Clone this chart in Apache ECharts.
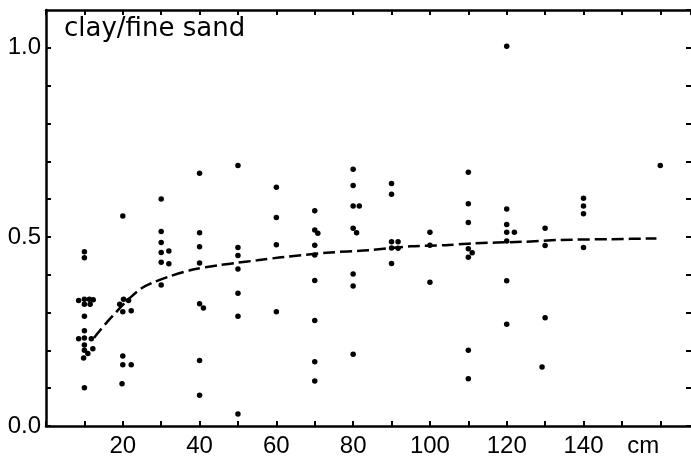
<!DOCTYPE html>
<html><head><meta charset="utf-8">
<script src="https://cdn.jsdelivr.net/npm/echarts@6/dist/echarts.min.js"></script>
<style>html,body{margin:0;padding:0;background:#fff}#c{width:691px;height:461px}</style>
</head><body><div id="c"></div>
<script>
// depth (cm) vs clay/fine sand ratio, grouped by sampling depth column
const col10 = [[10,0.461],[10,0.445],[8.5,0.332],[10,0.335],[11.3,0.335],[12.3,0.334],[10,0.322],[11.5,0.322],[10,0.290],[10,0.252],[8.5,0.231],[10,0.233],[11.8,0.231],[10,0.214],[10,0.200],[10.9,0.192],[12.2,0.204],[9.8,0.180],[10,0.101]];
const col20 = [[20,0.555],[19.2,0.322],[20.2,0.335],[21.5,0.332],[20,0.302],[22.2,0.305],[20,0.185],[20,0.162],[22.2,0.162],[19.8,0.112]];
const col30 = [[30,0.600],[30,0.514],[30,0.485],[30,0.459],[32,0.463],[30,0.433],[32,0.429],[30,0.373]];
const col40 = [[40,0.668],[40,0.511],[40,0.474],[40,0.431],[40,0.323],[41,0.312],[40,0.173],[40,0.081]];
const col50 = [[50,0.689],[50,0.472],[50,0.451],[50,0.415],[50,0.351],[50,0.290],[50,0.032]];
const col60 = [[60,0.631],[60,0.551],[60,0.479],[60,0.302]];
const col70 = [[70,0.569],[70,0.518],[70.8,0.510],[70,0.478],[70,0.452],[70,0.385],[70,0.279],[70,0.170],[70,0.119]];
const col80 = [[80,0.679],[80,0.636],[80,0.582],[81.6,0.582],[80,0.523],[80.9,0.511],[80,0.402],[80,0.370],[80,0.190]];
const col90 = [[90,0.641],[90,0.613],[90,0.487],[91.7,0.487],[90,0.471],[91.7,0.470],[90,0.430]];
const col100 = [[100,0.512],[100,0.478],[100,0.380]];
const col110 = [[110,0.671],[110,0.588],[110,0.538],[110,0.469],[111,0.458],[110,0.446],[110,0.200],[110,0.125]];
const col120 = [[120,1.004],[120,0.574],[120,0.533],[120,0.512],[122,0.512],[120,0.489],[120,0.384],[120,0.269]];
const col130 = [[130,0.523],[130,0.477],[130,0.286],[129.2,0.156]];
const col140 = [[140,0.602],[140,0.582],[140,0.561],[140,0.472]];
const col160 = [[160,0.689]];

// fitted trend curve
const fitDepth = [12.5,14,16,18,20,22,25,28,32,38,45,50,55,62,73,84,95,104,111,124,134,147,159];
const fitRatio = [0.233,0.252,0.276,0.298,0.320,0.340,0.365,0.380,0.395,0.413,0.425,0.432,0.438,0.447,0.458,0.465,0.475,0.478,0.483,0.487,0.492,0.494,0.496];

const xLabels = {20:'20',40:'40',60:'60',80:'80',100:'100',120:'120',140:'140',160:'{cm|cm}'};
const yLabels = ['0.0','0.5','1.0'];
const titleText = 'clay/fine sand';

const points = [].concat(col10,col20,col30,col40,col50,col60,col70,col80,col90,col100,col110,col120,col130,col140,col160);
const fit = fitDepth.map((d,i)=>[d,fitRatio[i]]);

const lineCol = '#000';
const numFamily = "'Liberation Sans', Arimo, Arial, sans-serif";
const tickStyle = {show:true, inside:true, length:5, lineStyle:{color:lineCol,width:2}};
const axLine = {show:true, onZero:false, lineStyle:{color:lineCol,width:2.5}};
const numFont = {fontFamily:numFamily, fontSize:24, color:'#000'};

const chart = echarts.init(document.getElementById('c'));
chart.setOption({
  animation:false,
  backgroundColor:'#fff',
  title:{text:titleText, left:59, top:11, textStyle:{fontFamily:'DejaVu Sans', fontSize:26, fontWeight:'normal', color:'#000'}},
  grid:{left:46, right:0, top:10, bottom:35},
  xAxis:[
    {type:'value', min:0, max:168, interval:10, position:'bottom',
     axisLine:axLine, axisTick:tickStyle, splitLine:{show:false},
     axisLabel:Object.assign({margin:8, showMaxLabel:false,
       formatter:v=>xLabels[Math.round(v)]||'',
       rich:{cm:{fontFamily:numFamily,fontSize:24,color:'#000',padding:[0,34,0,0]}}}, numFont)},
    {type:'value', min:0, max:168, interval:10, position:'top',
     axisLine:axLine, axisTick:tickStyle, splitLine:{show:false}, axisLabel:{show:false}}
  ],
  yAxis:[
    {type:'value', min:0, max:1.1, interval:0.1, position:'left',
     axisLine:axLine, axisTick:tickStyle, splitLine:{show:false},
     axisLabel:Object.assign({margin:5, showMaxLabel:false,
       formatter:v=>{const k=Math.round(v*10); return k===0?yLabels[0]:k===5?yLabels[1]:k===10?yLabels[2]:'';}}, numFont)},
    {type:'value', min:0, max:1.1, interval:0.1, position:'right',
     axisLine:{show:false, onZero:false}, axisTick:tickStyle, splitLine:{show:false}, axisLabel:{show:false}}
  ],
  series:[
    {type:'scatter', data:points, symbol:'circle', symbolSize:5.5, itemStyle:{color:'#000', opacity:1}, xAxisIndex:0, yAxisIndex:0},
    {type:'line', data:fit, showSymbol:false, smooth:0.3, xAxisIndex:0, yAxisIndex:0,
     lineStyle:{color:'#000', width:2.5, type:[12,5]}}
  ]
});
</script></body></html>
